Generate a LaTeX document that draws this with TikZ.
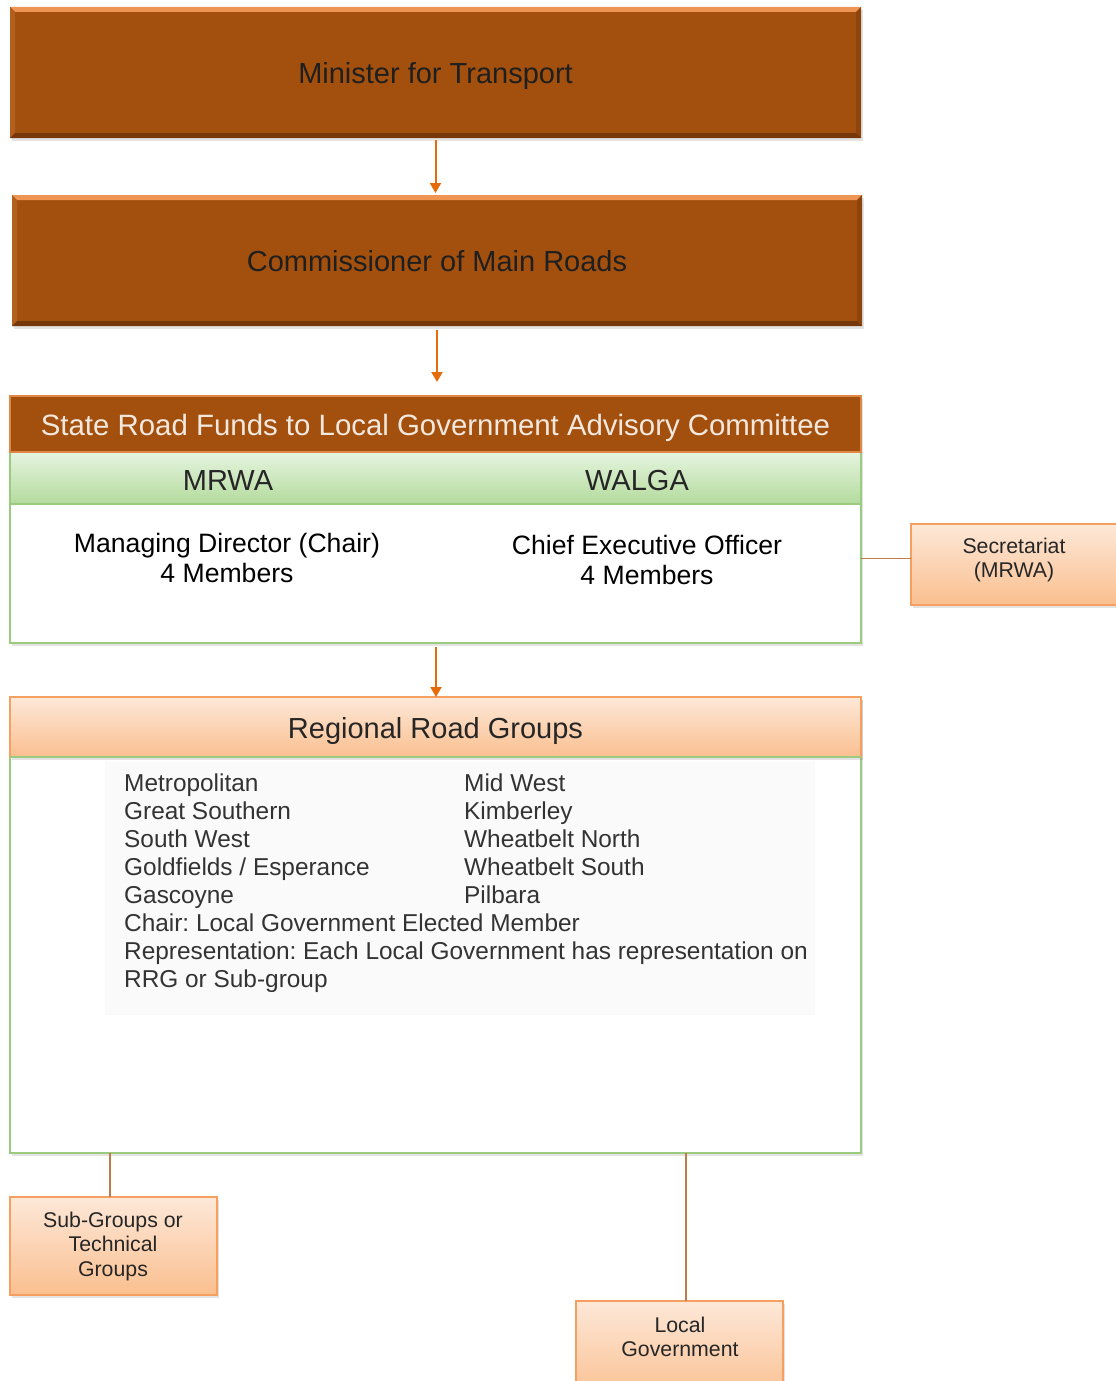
\documentclass[tikz,border=0pt]{standalone}
\usepackage{fontspec}
\setmainfont{Liberation Sans}
\frenchspacing
\usetikzlibrary{arrows.meta,shadows,calc}
\definecolor{brn}{HTML}{A3500F}
\definecolor{brnlt}{HTML}{EE9554}
\definecolor{brnlf}{HTML}{B2601F}
\definecolor{brnrt}{HTML}{8E450D}
\definecolor{brndk}{HTML}{76380A}
\definecolor{arrc}{HTML}{E46C0A}
\definecolor{grnb}{HTML}{9BCB7E}
\definecolor{grntop}{HTML}{E6F4DF}
\definecolor{grnbot}{HTML}{B3DB9D}
\definecolor{orgtop}{HTML}{FDE8D8}
\definecolor{orgbot}{HTML}{FABF8F}
\definecolor{orgb}{HTML}{F5A060}
\definecolor{lnk}{HTML}{C27A4A}
\definecolor{hdtext}{HTML}{F2E8DE}
\newcommand\bevelon[1]{%
  \fill[brnlt] (#1.north west) -- (#1.north east) -- ([shift={(-5,5)}]#1.north east) -- ([shift={(5,5)}]#1.north west) -- cycle;
  \fill[brnlf] (#1.north west) -- ([shift={(5,5)}]#1.north west) -- ([shift={(5,-5)}]#1.south west) -- (#1.south west) -- cycle;
  \fill[brnrt] (#1.north east) -- ([shift={(-5,5)}]#1.north east) -- ([shift={(-5,-5)}]#1.south east) -- (#1.south east) -- cycle;
  \fill[brndk] (#1.south west) -- ([shift={(5,-5)}]#1.south west) -- ([shift={(-5,-5)}]#1.south east) -- (#1.south east) -- cycle;
}
\tikzset{
  shad/.style={drop shadow={opacity=0.22,shadow xshift=2pt,shadow yshift=-3pt}},
  bigtext/.style={font=\fontsize{29}{34}\selectfont, text height=26pt, text depth=4pt},
  bevbox/.style={rectangle, fill=brn, inner sep=0pt, outer sep=0pt, anchor=north west,
    bigtext, text=black!88, shad},
  framebox/.style={rectangle, draw=grnb, line width=2.5pt, fill=white, inner sep=0pt,
    outer sep=0pt, anchor=north west, shad},
  orgbox/.style={rectangle, draw=orgb, line width=1.8pt, top color=orgtop, bottom color=orgbot,
    inner sep=0pt, outer sep=0pt, anchor=north west, shad},
  smalltext/.style={align=center, inner sep=0pt, font=\fontsize{21.3}{24.5}\selectfont, text=black!85},
  arr/.style={draw=arrc, line width=2pt, -{Triangle[width=11pt,length=10pt]}},
  lnkline/.style={draw=lnk, line width=1.4pt},
}
\begin{document}
\begin{tikzpicture}[x=1pt,y=-1pt]
\useasboundingbox (0,0) rectangle (1116,1381);
\clip (0,0) rectangle (1116,1381);
\fill[white] (0,0) rectangle (1116,1381);

% top boxes
\node[bevbox, minimum width=851pt, minimum height=131pt] (min) at (10,7) {Minister for Transport};
\bevelon{min}
\node[bevbox, minimum width=850pt, minimum height=131pt] (com) at (12,195) {Commissioner of Main Roads};
\bevelon{com}

% committee
\node[framebox, minimum width=851pt, minimum height=247pt] (cmt) at (10,396) {};
\node[rectangle, draw=grnb, line width=2pt, top color=grntop, bottom color=grnbot, inner sep=0pt,
  outer sep=0pt, anchor=north west, minimum width=851pt, minimum height=52pt] (band) at (10,452) {};
\node[rectangle, fill=brn, draw=brnlt!80!brn, line width=1.2pt, inner sep=0pt, outer sep=0pt,
  anchor=north west, minimum width=851pt, minimum height=56pt,
  font=\fontsize{29.4}{34}\selectfont, text height=26pt, text depth=4pt, text=hdtext] (cmthead) at (10,396)
  {State Road Funds to Local Government Advisory Committee};
\node[anchor=base, inner sep=0pt, font=\fontsize{29}{34}\selectfont, text=black!85] (mrwa) at (228,490) {MRWA};
\node[anchor=base, inner sep=0pt, font=\fontsize{29}{34}\selectfont, text=black!85] (walga) at (637,490) {WALGA};
\node[anchor=base, inner sep=0pt, font=\fontsize{26.6}{30}\selectfont] (mdtext) at (227,552)
  {\begin{tabular}[t]{@{}c@{}}Managing Director (Chair)\\4 Members\end{tabular}};
\node[anchor=base, inner sep=0pt, font=\fontsize{26.6}{30}\selectfont] (ceotext) at (647,554)
  {\begin{tabular}[t]{@{}c@{}}Chief Executive Officer\\4 Members\end{tabular}};

% secretariat
\node[orgbox, minimum width=210pt, minimum height=81pt] (sec) at (911,524) {};
\node[smalltext] (sectext) at (1014,560) {Secretariat\\(MRWA)};

% regional road groups
\node[framebox, minimum width=851pt, minimum height=456pt] (reg) at (10,697) {};
\node[orgbox, line width=1.5pt, minimum width=851pt, minimum height=60pt,
  bigtext, text=black!85] (reghead) at (10,697) {Regional Road Groups};
\draw[draw=grnb, line width=2pt] (reghead.south west) -- (reghead.south east);
\fill[black!2] (105,762) rectangle (815,1015);
\node[anchor=base west, inner sep=0pt, font=\fontsize{24.4}{28}\selectfont, text=black!80] (rrglist) at (124,791)
  {\begin{tabular}[t]{@{}p{340pt}@{}l@{}}
   Metropolitan & Mid West\\
   Great Southern & Kimberley\\
   South West & Wheatbelt North\\
   Goldfields / Esperance & Wheatbelt South\\
   Gascoyne & Pilbara\\
   \multicolumn{2}{@{}l@{}}{Chair: Local Government Elected Member}\\
   \multicolumn{2}{@{}l@{}}{Representation: Each Local Government has representation on}\\
   \multicolumn{2}{@{}l@{}}{RRG or Sub-group}
  \end{tabular}};

% bottom boxes
\node[orgbox, minimum width=207pt, minimum height=98pt] (sub) at (10,1197) {};
\node[smalltext] (subtext) at (113,1246) {Sub-Groups or\\Technical\\Groups};
\node[orgbox, minimum width=207pt, minimum height=100pt] (loc) at (576,1301) {};
\node[smalltext] (loctext) at (680,1337) {Local\\Government};

% connectors
\draw[arr, shorten <=2pt, shorten >=2pt] (min.south) -- (min.south |- com.north);
\draw[arr, shorten <=4pt, shorten >=14pt] (com.south) -- (com.south |- cmt.north);
\draw[arr, shorten <=4pt] ([xshift=0.5pt]cmt.south) -- ([xshift=0.5pt]cmt.south |- reg.north);
\draw[lnkline] ([yshift=6pt]sec.west -| cmt.east) -- ([yshift=6pt]sec.west);
\draw[lnkline] ([xshift=-3.5pt]sub.north) -- ([xshift=-3.5pt]sub.north |- reg.south);
\draw[lnkline] ([xshift=6.5pt]loc.north) -- ([xshift=6.5pt]loc.north |- reg.south);
\end{tikzpicture}
\end{document}
